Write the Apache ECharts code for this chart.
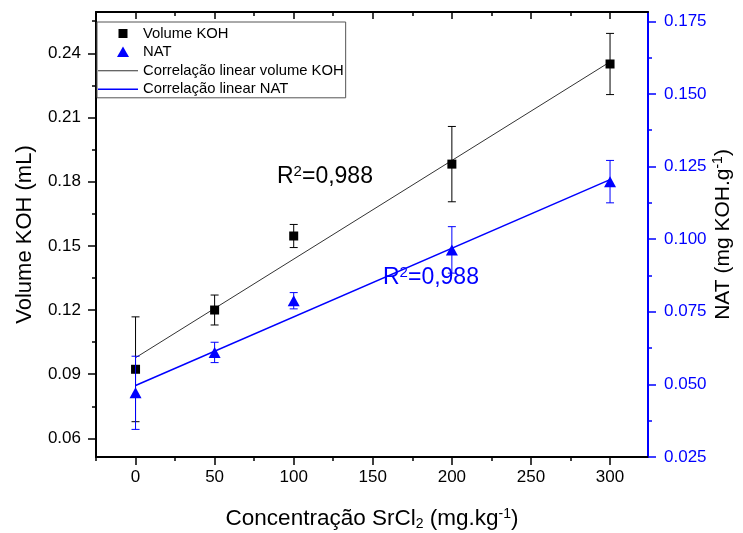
<!DOCTYPE html>
<html>
<head>
<meta charset="utf-8">
<script src="https://cdn.jsdelivr.net/npm/echarts@6/dist/echarts.min.js"></script>
<style>
html,body{margin:0;padding:0;background:#fff;}
#chart{width:743px;height:533px;}
</style>
</head>
<body>
<div id="chart"></div>
<script>
// ---- data ----
const concentrations = [0, 50, 100, 200, 300];
const volumeKOH = [0.0923, 0.1200, 0.1546, 0.1882, 0.2350];
const volumeKOHErr = [0.0245, 0.0070, 0.0054, 0.0176, 0.0143];
const nat = [0.0471, 0.0610, 0.0788, 0.0963, 0.1198];
const natErr = [0.0126, 0.0035, 0.0028, 0.0080, 0.0073];
const fitX = [0, 300];
const fitKOH = [0.0977, 0.2360];
const fitNAT = [0.0496, 0.1205];

const xMajorTicks = [0, 50, 100, 150, 200, 250, 300];
const xMinorTicks = [-25, 25, 75, 125, 175, 225, 275];
const leftMajorTicks = [0.06, 0.09, 0.12, 0.15, 0.18, 0.21, 0.24];
const leftMinorTicks = [0.075, 0.105, 0.135, 0.165, 0.195, 0.225, 0.255];
const rightMajorTicks = [0.025, 0.05, 0.075, 0.1, 0.125, 0.15, 0.175];
const rightMinorTicks = [0.0375, 0.0625, 0.0875, 0.1125, 0.1375, 0.1625];

const seriesNames = ['Volume KOH', 'NAT', 'Correlação linear volume KOH', 'Correlação linear NAT'];
const r2Text = 'R{sup|2}=0,988';

// ---- build ----
const FONT = 'Arial, "Liberation Sans", sans-serif';
const BLUE = '#0000ff';
const X_MIN = -25, X_MAX = 324;
const L_MIN = 0.0513, L_MAX = 0.2593;
const R_MIN = 0.025, R_MAX = 0.1782;

function pairs(xs, ys) { return xs.map((x, i) => [x, ys[i]]); }
function errData(xs, ys, es) { return xs.map((x, i) => [x, ys[i] - es[i], ys[i] + es[i]]); }
function errRenderer(color) {
  return function (params, api) {
    const x = api.value(0);
    const top = api.coord([x, api.value(2)]);
    const bot = api.coord([x, api.value(1)]);
    const hw = 4;
    const st = { stroke: color, lineWidth: 1 };
    return {
      type: 'group',
      children: [
        { type: 'line', shape: { x1: top[0], y1: top[1], x2: bot[0], y2: bot[1] }, style: st },
        { type: 'line', shape: { x1: top[0] - hw, y1: top[1], x2: top[0] + hw, y2: top[1] }, style: st },
        { type: 'line', shape: { x1: bot[0] - hw, y1: bot[1], x2: bot[0] + hw, y2: bot[1] }, style: st }
      ]
    };
  };
}

const supRich = {
  sup: { fontSize: 14, fontFamily: FONT, padding: [0, 0, 10, 0] },
  sub: { fontSize: 14, fontFamily: FONT, padding: [10, 0, 0, 0] }
};

const chart = echarts.init(document.getElementById('chart'), null, { renderer: 'canvas' });
const option = {
  animation: false,
  backgroundColor: '#fff',
  textStyle: { fontFamily: FONT },
  grid: { left: 96, right: 95, top: 12, bottom: 76, outerBoundsMode: 'none' },
  legend: {
    left: 97, top: 22, orient: 'vertical',
    padding: [4, 2, 1, 1],
    itemWidth: 40, itemHeight: 12, itemGap: 3.6,
    borderColor: '#555', borderWidth: 1, backgroundColor: '#fff',
    textStyle: { fontSize: 14.8, color: '#000', fontFamily: FONT, lineHeight: 14 },
    data: [
      { name: seriesNames[0], icon: 'path://M0,0M40,12M20.5,1.5h9v9h-9z' },
      { name: seriesNames[1], icon: 'path://M0,0M40,12M25,0.5L31,11L19,11Z' },
      { name: seriesNames[2], icon: 'path://M0,0M40,12M0,5.5h40v1h-40z' },
      { name: seriesNames[3], icon: 'path://M0,0M40,12M0,5.2h40v1.6h-40z' }
    ]
  },
  xAxis: [
    {
      type: 'value', position: 'bottom', min: X_MIN, max: X_MAX,
      name: 'Concentração SrCl{sub|2} (mg.kg{sup|-1})',
      nameLocation: 'middle', nameGap: 50,
      nameTextStyle: { fontSize: 22.5, color: '#000', fontFamily: FONT, rich: supRich },
      axisLine: { onZero: false, lineStyle: { color: '#000', width: 2 } },
      axisTick: { customValues: xMajorTicks, length: 8, lineStyle: { color: '#000', width: 1.5 } },
      axisLabel: { customValues: xMajorTicks, fontSize: 17, color: '#000', margin: 12, fontFamily: FONT },
      splitLine: { show: false }
    },
    {
      type: 'value', position: 'bottom', min: X_MIN, max: X_MAX,
      axisLine: { show: false, onZero: false },
      axisTick: { customValues: xMinorTicks, length: 4, lineStyle: { color: '#000', width: 1.5 } },
      axisLabel: { show: false }, splitLine: { show: false }
    },
    {
      type: 'value', position: 'top', min: X_MIN, max: X_MAX,
      axisLine: { onZero: false, lineStyle: { color: '#000', width: 2 } },
      axisTick: { inside: true, customValues: xMajorTicks, length: 7, lineStyle: { color: '#000', width: 1.5 } },
      axisLabel: { show: false }, splitLine: { show: false }
    },
    {
      type: 'value', position: 'top', min: X_MIN, max: X_MAX,
      axisLine: { show: false, onZero: false },
      axisTick: { inside: true, customValues: xMinorTicks, length: 4, lineStyle: { color: '#000', width: 1.5 } },
      axisLabel: { show: false }, splitLine: { show: false }
    }
  ],
  yAxis: [
    {
      type: 'value', position: 'left', min: L_MIN, max: L_MAX,
      name: 'Volume KOH (mL)', nameLocation: 'middle', nameGap: 60, nameRotate: 90,
      nameTextStyle: { fontSize: 22, color: '#000', fontFamily: FONT },
      axisLine: { onZero: false, lineStyle: { color: '#000', width: 2 } },
      axisTick: { customValues: leftMajorTicks, length: 8, lineStyle: { color: '#000', width: 1.5 } },
      axisLabel: { customValues: leftMajorTicks, fontSize: 17, color: '#000', margin: 15, fontFamily: FONT,
        formatter: v => v.toFixed(2) },
      splitLine: { show: false }
    },
    {
      type: 'value', position: 'right', min: R_MIN, max: R_MAX,
      name: 'NAT (mg KOH.g{sup|-1})', nameLocation: 'middle', nameGap: 63, nameRotate: 90,
      nameMoveOverlap: false,
      nameTextStyle: { fontSize: 21, color: '#000', fontFamily: FONT, rich: supRich },
      axisLine: { onZero: false, lineStyle: { color: BLUE, width: 2 } },
      axisTick: { customValues: rightMajorTicks, length: 8, lineStyle: { color: BLUE, width: 1.5 } },
      axisLabel: { customValues: rightMajorTicks, fontSize: 17, color: BLUE, margin: 16, fontFamily: FONT,
        formatter: v => v.toFixed(3) },
      splitLine: { show: false }
    },
    {
      type: 'value', position: 'left', min: L_MIN, max: L_MAX,
      axisLine: { show: false, onZero: false },
      axisTick: { customValues: leftMinorTicks, length: 4, lineStyle: { color: '#000', width: 1.5 } },
      axisLabel: { show: false }, splitLine: { show: false }
    },
    {
      type: 'value', position: 'right', min: R_MIN, max: R_MAX,
      axisLine: { show: false, onZero: false },
      axisTick: { customValues: rightMinorTicks, length: 4, lineStyle: { color: BLUE, width: 1.5 } },
      axisLabel: { show: false }, splitLine: { show: false }
    }
  ],
  series: [
    {
      name: seriesNames[2], type: 'line', xAxisIndex: 0, yAxisIndex: 0,
      data: pairs(fitX, fitKOH), symbol: 'none', silent: true,
      color: '#333', lineStyle: { color: '#333', width: 1 }, z: 2
    },
    {
      name: seriesNames[3], type: 'line', xAxisIndex: 0, yAxisIndex: 1,
      data: pairs(fitX, fitNAT), symbol: 'none', silent: true,
      color: BLUE, lineStyle: { color: BLUE, width: 1.5 }, z: 2
    },
    {
      name: 'errKOH', type: 'custom', xAxisIndex: 0, yAxisIndex: 0,
      data: errData(concentrations, volumeKOH, volumeKOHErr),
      encode: { x: 0, y: [1, 2] }, renderItem: errRenderer('#000'), silent: true, z: 3
    },
    {
      name: seriesNames[0], type: 'scatter', xAxisIndex: 0, yAxisIndex: 0,
      data: pairs(concentrations, volumeKOH), symbol: 'rect', symbolSize: 9,
      itemStyle: { color: '#000', opacity: 1 }, color: '#000', z: 4
    },
    {
      name: 'errNAT', type: 'custom', xAxisIndex: 0, yAxisIndex: 1,
      data: errData(concentrations, nat, natErr),
      encode: { x: 0, y: [1, 2] }, renderItem: errRenderer(BLUE), silent: true, z: 5
    },
    {
      name: seriesNames[1], type: 'scatter', xAxisIndex: 0, yAxisIndex: 1,
      data: pairs(concentrations, nat), symbol: 'triangle', symbolSize: [12, 11],
      itemStyle: { color: BLUE, opacity: 1 }, color: BLUE, z: 6
    }
  ],
  graphic: [
    { type: 'text', left: 277, top: 164, z: 10,
      style: { text: r2Text, fill: '#000', font: '23px ' + FONT,
        rich: { sup: { fontSize: 15, fill: '#000', padding: [0, 0, 11, 0] } } } },
    { type: 'text', left: 383, top: 265, z: 10,
      style: { text: r2Text, fill: BLUE, font: '23px ' + FONT,
        rich: { sup: { fontSize: 15, fill: BLUE, padding: [0, 0, 11, 0] } } } }
  ]
};
chart.setOption(option);
</script>
</body>
</html>
